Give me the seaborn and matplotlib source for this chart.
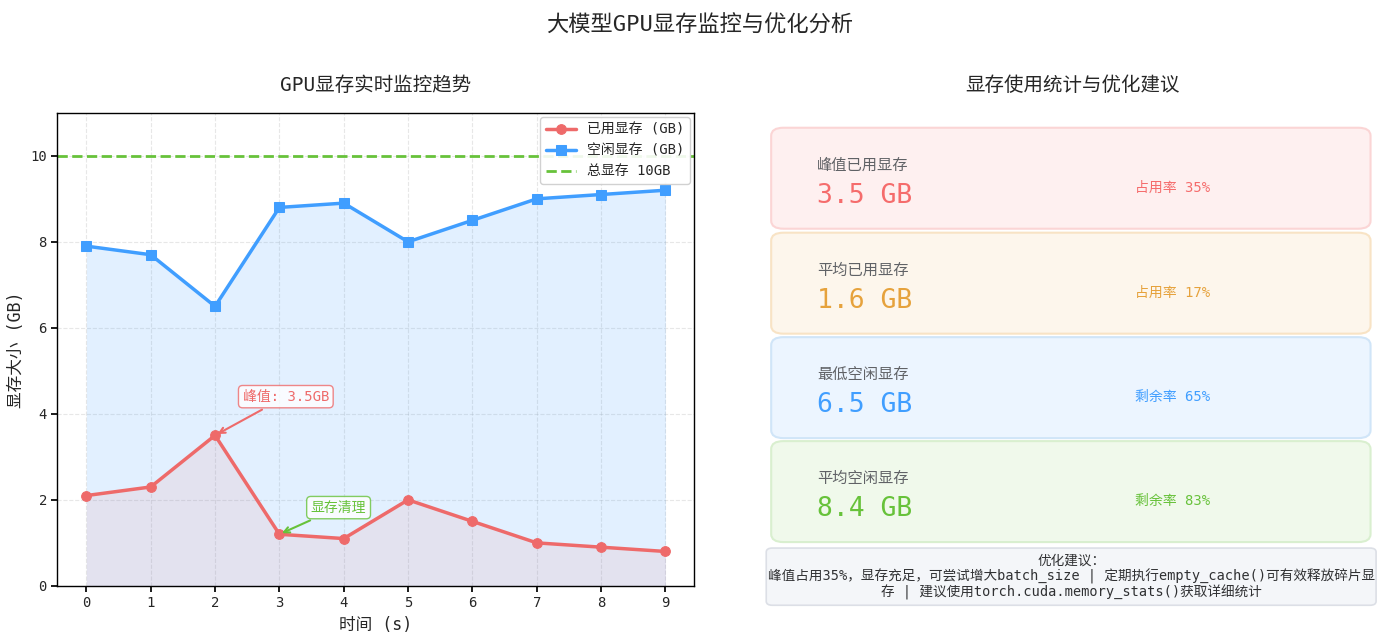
import matplotlib
matplotlib.use("Agg")
import matplotlib.pyplot as plt
import seaborn as sns
from matplotlib.patches import FancyBboxPatch

sns.set_theme(style="white")
plt.rcParams['font.family'] = ['DejaVu Sans Mono', 'Noto Sans CJK SC']
plt.rcParams['axes.unicode_minus'] = False

# ---- data ----
time_s = [0, 1, 2, 3, 4, 5, 6, 7, 8, 9]
used_gb = [2.1, 2.3, 3.5, 1.2, 1.1, 2.0, 1.5, 1.0, 0.9, 0.8]
free_gb = [7.9, 7.7, 6.5, 8.8, 8.9, 8.0, 8.5, 9.0, 9.1, 9.2]
total_gb = 10

card_labels = ["峰值已用显存", "平均已用显存", "最低空闲显存", "平均空闲显存"]
card_values = ["3.5 GB", "1.6 GB", "6.5 GB", "8.4 GB"]
card_rates = ["占用率 35%", "占用率 17%", "剩余率 65%", "剩余率 83%"]
card_colors = ["#F56C6C", "#E6A23C", "#409EFF", "#67C23A"]
card_fills = ["#FEF0F0", "#FDF6EC", "#ECF5FF", "#F0F9EB"]
card_edges = ["#FBD5D5", "#F8E3C5", "#D0E5F8", "#D9EFCF"]

advice_text = ("优化建议：\n峰值占用35%，显存充足，可尝试增大batch_size | 定期执行empty_cache()可有效释放碎片显\n"
               "存 | 建议使用torch.cuda.memory_stats()获取详细统计")

RED = "#EE6A6A"
BLUE = "#409EFF"
GREEN = "#67C23A"

fig = plt.figure(figsize=(14, 6.41), dpi=100)
fig.patch.set_facecolor("white")

# ---- left chart ----
ax = fig.add_axes([0.041, 0.086, 0.455, 0.738])
ax.fill_between(time_s, free_gb, color=BLUE, alpha=0.15, lw=0)
ax.fill_between(time_s, used_gb, color=RED, alpha=0.10, lw=0)
sns.lineplot(x=time_s, y=used_gb, ax=ax, color=RED, lw=2.5, marker='o', markersize=7,
             markeredgecolor=RED, label="已用显存 (GB)")
sns.lineplot(x=time_s, y=free_gb, ax=ax, color=BLUE, lw=2.5, marker='s', markersize=7,
             markeredgecolor=BLUE, label="空闲显存 (GB)")
ax.axhline(total_gb, color=GREEN, ls='--', lw=2, label="总显存 10GB")

ax.set_xlim(-0.45, 9.45)
ax.set_ylim(0, 11)
ax.set_xticks(time_s)
ax.set_yticks([0, 2, 4, 6, 8, 10])
ax.tick_params(axis='both', labelsize=10, length=4, color='black', direction='out', bottom=True, left=True)
ax.grid(True, ls='--', color='#B0B0B0', alpha=0.3, lw=0.8)
for s in ax.spines.values():
    s.set_color('black')
    s.set_linewidth(1.0)
ax.set_xlabel("时间 (s)", fontsize=12)
ax.set_ylabel("显存大小 (GB)", fontsize=12)
ax.set_title("GPU显存实时监控趋势", fontsize=14, pad=16)
leg = ax.legend(loc='upper right', fontsize=10, frameon=True, framealpha=0.9,
                borderaxespad=0.3, handlelength=2.2)
leg.get_frame().set_edgecolor('#CCCCCC')

ax.annotate("峰值: 3.5GB", xy=(2, 3.5), xytext=(3.1, 4.4), ha='center', va='center',
            fontsize=10, color=RED,
            bbox=dict(boxstyle='round,pad=0.3', fc='white', ec=RED, alpha=0.8),
            arrowprops=dict(arrowstyle='->', color=RED, lw=1.5))
ax.annotate("显存清理", xy=(3, 1.2), xytext=(3.92, 1.82), ha='center', va='center',
            fontsize=10, color=GREEN,
            bbox=dict(boxstyle='round,pad=0.3', fc='white', ec=GREEN, alpha=0.8),
            arrowprops=dict(arrowstyle='->', color=GREEN, lw=1.5))

# ---- right panel ----
ax2 = fig.add_axes([0.546, 0.048, 0.440, 0.776])
ax2.set_xlim(0, 1)
ax2.set_ylim(0, 1)
ax2.axis('off')
ax2.set_title("显存使用统计与优化建议", fontsize=14, pad=16)

card_tops = [0.970, 0.759, 0.549, 0.340]
card_h = 0.203
for top, lab, val, rate, c, fcol, ecol in zip(card_tops, card_labels, card_values, card_rates,
                                                card_colors, card_fills, card_edges):
    patch = FancyBboxPatch((0.011, top - card_h), 0.973, card_h,
                           boxstyle="round,pad=0,rounding_size=0.02", mutation_aspect=0.8,
                           fc=fcol, ec=ecol, lw=1.5, transform=ax2.transAxes)
    ax2.add_patch(patch)
    ax2.text(0.086, top - 0.075, lab, fontsize=11, color='#606266', ha='left', va='center')
    ax2.text(0.086, top - 0.137, val, fontsize=19, color=c, ha='left', va='center')
    ax2.text(0.662, top - 0.121, rate, fontsize=10, color=c, ha='center', va='center')

adv = FancyBboxPatch((0.003, 0.010), 0.990, 0.115,
                     boxstyle="round,pad=0,rounding_size=0.01", mutation_aspect=0.8,
                     fc='#F4F6F9', ec='#DCDFE6', lw=1.2, transform=ax2.transAxes)
ax2.add_patch(adv)
ax2.text(0.498, 0.0675, advice_text, fontsize=9.8, color='#303133', ha='center', va='center',
         linespacing=1.1)

fig.suptitle("大模型GPU显存监控与优化分析", fontsize=16, y=0.977)

fig.savefig("out.png", dpi=100, facecolor='white')
